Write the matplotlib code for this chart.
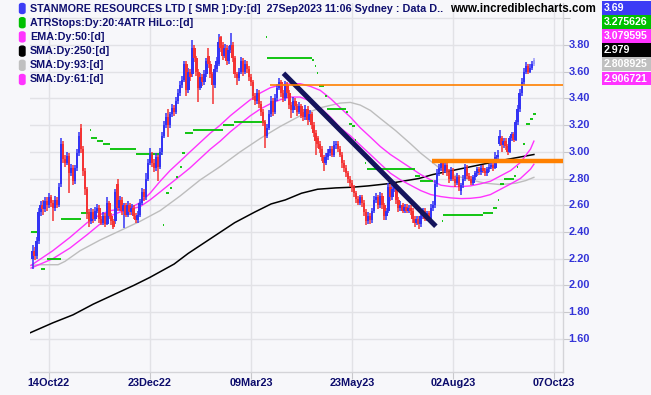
import numpy as np
import matplotlib
matplotlib.use("Agg")
import matplotlib.pyplot as plt
from matplotlib.patches import Rectangle, FancyBboxPatch

# ---------------- data ----------------
dates_tick_idx = [8, 58, 108, 158, 208, 258]
dates_tick_lab = ["14Oct22", "23Dec22", "09Mar23", "23May23", "02Aug23", "07Oct23"]

opens = [
 2.20,2.26,2.22,2.33,2.55,2.60,2.57,2.63,2.60,2.66, 2.62,2.58,2.64,2.60,2.76,3.06,2.95,2.92,2.97,2.84,
 2.88,2.78,2.88,2.99,3.18,3.02,2.86,2.72,2.55,2.48, 2.55,2.50,2.56,2.58,2.50,2.47,2.52,2.46,2.62,2.52,
 2.48,2.48,2.76,2.58,2.64,2.56,2.60,2.53,2.60,2.55, 2.58,2.52,2.49,2.53,2.62,2.70,2.66,2.80,2.92,2.98,
 2.92,2.88,2.96,2.89,3.00,3.12,3.20,3.26,3.20,3.28, 3.33,3.30,3.38,3.44,3.50,3.54,3.66,3.46,3.60,3.58,
 3.78,3.70,3.60,3.48,3.56,3.52,3.58,3.72,3.66,3.58, 3.50,3.62,3.66,3.86,3.80,3.72,3.78,3.68,3.76,3.80,
 3.70,3.58,3.55,3.60,3.68,3.60,3.66,3.62,3.56,3.52, 3.42,3.38,3.44,3.36,3.30,3.22,3.12,3.18,3.28,3.38,
 3.30,3.40,3.48,3.52,3.44,3.40,3.50,3.44,3.35,3.31, 3.38,3.34,3.30,3.34,3.30,3.26,3.32,3.24,3.28,3.20,
 3.14,3.10,3.06,3.02,2.96,2.92,2.96,2.99,3.02,2.98, 3.05,3.06,3.02,2.98,2.92,2.88,2.84,2.80,2.77,2.73,
 2.69,2.65,2.62,2.66,2.62,2.55,2.48,2.52,2.49,2.56, 2.64,2.66,2.60,2.67,2.60,2.52,2.56,2.74,2.66,2.72,
 2.75,2.64,2.58,2.60,2.56,2.59,2.56,2.58,2.56,2.50, 2.47,2.50,2.46,2.52,2.56,2.50,2.54,2.50,2.58,2.60,
 2.76,2.84,2.88,2.92,2.86,2.90,2.85,2.80,2.86,2.80, 2.77,2.81,2.71,2.75,2.80,2.88,2.82,2.80,2.77,2.81,
 2.84,2.87,2.85,2.88,2.86,2.84,2.87,2.89,2.90,2.88, 2.96,3.06,3.10,3.05,3.08,3.04,3.00,3.10,3.13,3.09,
 3.22,3.32,3.44,3.52,3.60,3.64,3.60,3.63,3.66]
closes = [
 2.26,2.22,2.33,2.55,2.60,2.57,2.63,2.60,2.66,2.62, 2.58,2.64,2.60,2.74,3.06,2.95,2.92,2.97,2.84,2.88,
 2.78,2.88,2.99,3.12,3.02,2.86,2.72,2.55,2.48,2.55, 2.50,2.56,2.58,2.50,2.47,2.52,2.46,2.62,2.52,2.48,
 2.44,2.70,2.58,2.64,2.56,2.60,2.53,2.60,2.55,2.58, 2.52,2.49,2.53,2.62,2.70,2.66,2.80,2.92,2.98,2.92,
 2.88,2.96,2.89,3.00,3.12,3.20,3.26,3.20,3.28,3.33, 3.30,3.38,3.44,3.50,3.54,3.66,3.46,3.60,3.56,3.78,
 3.70,3.60,3.48,3.56,3.52,3.58,3.68,3.66,3.58,3.50, 3.62,3.68,3.82,3.78,3.72,3.78,3.68,3.76,3.80,3.70,
 3.58,3.55,3.60,3.68,3.60,3.66,3.62,3.56,3.52,3.42, 3.38,3.44,3.36,3.30,3.22,3.12,3.18,3.28,3.38,3.30,
 3.40,3.48,3.52,3.44,3.40,3.50,3.44,3.35,3.31,3.38, 3.34,3.30,3.34,3.27,3.26,3.32,3.24,3.28,3.20,3.14,
 3.08,3.06,3.02,2.96,2.92,2.96,2.99,3.02,2.98,3.05, 3.06,3.02,2.98,2.92,2.88,2.84,2.80,2.77,2.73,2.69,
 2.65,2.62,2.66,2.62,2.55,2.48,2.52,2.49,2.56,2.64, 2.66,2.60,2.67,2.60,2.52,2.56,2.74,2.66,2.72,2.75,
 2.64,2.58,2.60,2.56,2.59,2.56,2.58,2.56,2.50,2.47, 2.50,2.46,2.52,2.56,2.50,2.54,2.50,2.58,2.60,2.76,
 2.84,2.88,2.92,2.86,2.90,2.85,2.80,2.86,2.80,2.77, 2.81,2.74,2.75,2.80,2.88,2.82,2.80,2.77,2.81,2.84,
 2.87,2.85,2.88,2.86,2.84,2.87,2.89,2.90,2.88,2.96, 2.98,3.12,3.05,3.08,3.04,3.00,3.10,3.13,3.09,3.22,
 3.32,3.44,3.52,3.60,3.64,3.60,3.63,3.66,3.69]
highs = [
 2.30,2.29,2.36,2.58,2.63,2.64,2.66,2.66,2.69,2.68, 2.64,2.67,2.66,2.77,3.10,3.08,2.98,3.00,2.99,2.91,
 2.90,2.90,3.02,3.15,3.21,3.04,2.88,2.74,2.57,2.58, 2.57,2.59,2.61,2.60,2.52,2.55,2.54,2.66,2.63,2.54,
 2.50,2.72,2.80,2.67,2.66,2.62,2.62,2.63,2.62,2.61, 2.60,2.54,2.56,2.65,2.73,2.72,2.84,2.95,3.03,3.00,
 2.95,2.99,2.98,3.03,3.15,3.23,3.29,3.32,3.30,3.36, 3.35,3.41,3.47,3.53,3.57,3.68,3.68,3.63,3.62,3.84,
 3.80,3.72,3.62,3.59,3.58,3.61,3.70,3.78,3.68,3.60, 3.65,3.71,3.885,3.87,3.82,3.81,3.80,3.79,3.89,3.82,
 3.72,3.60,3.63,3.71,3.70,3.69,3.68,3.64,3.58,3.54, 3.44,3.47,3.46,3.38,3.32,3.24,3.21,3.31,3.42,3.40,
 3.43,3.51,3.55,3.54,3.46,3.53,3.52,3.46,3.37,3.41, 3.40,3.36,3.37,3.36,3.32,3.35,3.34,3.31,3.30,3.22,
 3.16,3.12,3.08,3.04,2.98,2.99,3.02,3.04,3.04,3.08, 3.08,3.08,3.04,3.00,2.94,2.90,2.86,2.82,2.79,2.75,
 2.71,2.67,2.68,2.68,2.64,2.57,2.55,2.54,2.58,2.67, 2.69,2.68,2.70,2.69,2.62,2.58,2.77,2.76,2.75,2.78,
 2.77,2.66,2.63,2.62,2.61,2.61,2.60,2.60,2.58,2.52, 2.52,2.52,2.55,2.58,2.58,2.56,2.56,2.61,2.63,2.79,
 2.87,2.91,2.95,2.94,2.94,2.92,2.87,2.89,2.88,2.82, 2.84,2.83,2.77,2.83,2.91,2.90,2.84,2.82,2.83,2.86,
 2.89,2.89,2.90,2.90,2.88,2.89,2.91,2.92,2.92,3.00, 3.01,3.16,3.12,3.10,3.10,3.06,3.12,3.15,3.15,3.24,
 3.35,3.47,3.55,3.63,3.67,3.66,3.66,3.68,3.70]
lows = [
 2.12,2.19,2.20,2.31,2.52,2.53,2.55,2.56,2.58,2.59, 2.48,2.56,2.58,2.59,2.74,2.92,2.89,2.90,2.69,2.82,
 2.75,2.76,2.86,2.97,2.99,2.82,2.68,2.50,2.44,2.46, 2.47,2.48,2.54,2.47,2.45,2.45,2.44,2.45,2.50,2.45,
 2.42,2.46,2.56,2.56,2.53,2.43,2.51,2.51,2.53,2.53, 2.50,2.47,2.47,2.51,2.60,2.63,2.64,2.78,2.90,2.89,
 2.85,2.86,2.78,2.87,2.98,3.10,3.18,3.11,3.18,3.26, 3.27,3.28,3.36,3.42,3.48,3.52,3.42,3.44,3.53,3.56,
 3.67,3.57,3.37,3.46,3.49,3.50,3.56,3.63,3.55,3.36, 3.48,3.60,3.64,3.75,3.69,3.70,3.65,3.66,3.74,3.67,
 3.55,3.50,3.53,3.58,3.57,3.58,3.59,3.53,3.49,3.39, 3.35,3.36,3.33,3.27,3.19,3.03,3.10,3.16,3.26,3.27,
 3.28,3.38,3.46,3.41,3.37,3.38,3.40,3.32,3.25,3.29, 3.31,3.27,3.28,3.25,3.23,3.24,3.20,3.22,3.17,3.11,
 2.98,3.03,2.99,2.93,2.86,2.90,2.94,2.97,2.96,2.96, 3.02,3.00,2.96,2.88,2.85,2.81,2.77,2.74,2.70,2.66,
 2.62,2.60,2.60,2.59,2.52,2.45,2.46,2.46,2.47,2.54, 2.62,2.57,2.58,2.57,2.49,2.49,2.54,2.63,2.64,2.70,
 2.61,2.55,2.56,2.54,2.54,2.54,2.54,2.53,2.47,2.44, 2.45,2.42,2.44,2.50,2.48,2.48,2.48,2.49,2.56,2.58,
 2.74,2.82,2.86,2.83,2.84,2.82,2.77,2.78,2.78,2.74, 2.75,2.71,2.68,2.73,2.78,2.80,2.78,2.75,2.75,2.79,
 2.82,2.83,2.83,2.84,2.82,2.82,2.85,2.87,2.86,2.87, 2.94,3.04,3.00,3.03,3.01,2.98,2.99,3.08,3.07,3.08,
 3.20,3.30,3.42,3.50,3.58,3.58,3.59,3.61,3.64]

# moving averages, sampled along the bars (bar index, value)
ema50_idx = [-0.8,10,18.5,27,33.4,38.3,43.3,48.2,53.2,58.1,63.1,68,73,77.9,82.9,87.9,92.8,97.8,102.7,107.7,
             112.6,117.6,122.5,127.5,132.4,137.4,142.3,147.3,152.2,157.2,162.1,167.1,172,177,182,187,192,197,
             202,207,212,216.6,221.5,226.5,231.5,236.5,241.3,246.3,248]
ema50_val = [2.15,2.26,2.36,2.47,2.53,2.56,2.57,2.58,2.62,2.69,2.78,2.86,2.93,3.00,3.07,3.14,3.20,3.27,3.33,3.39,
             3.44,3.48,3.50,3.51,3.51,3.49,3.46,3.40,3.33,3.26,3.18,3.11,3.04,2.98,2.93,2.88,2.83,2.79,
             2.75,2.74,2.74,2.745,2.76,2.78,2.82,2.86,2.92,3.02,3.08]
sma61_idx = ema50_idx
sma61_val = [2.13,2.20,2.28,2.38,2.46,2.52,2.55,2.57,2.59,2.64,2.70,2.76,2.82,2.88,2.95,3.02,3.08,3.15,3.21,3.27,
             3.32,3.36,3.39,3.41,3.41,3.38,3.33,3.26,3.18,3.12,3.05,2.98,2.91,2.84,2.79,2.75,2.71,2.68,
             2.665,2.655,2.65,2.652,2.66,2.68,2.72,2.76,2.80,2.87,2.907]
sma93_idx = [-0.8,3.7,12.6,16,23.5,33.4,43.3,53.2,63.1,73,82.9,92.8,102.7,112.6,122.5,132.4,142.3,152.2,157.2,
             162.1,167.1,172,179.5,187,192,197,202,209.5,216.6,224,231.5,239,244,248]
sma93_val = [2.15,2.155,2.155,2.18,2.26,2.34,2.41,2.48,2.56,2.67,2.79,2.89,3.00,3.10,3.19,3.27,3.33,3.365,3.37,
             3.35,3.31,3.25,3.16,3.06,2.99,2.93,2.87,2.82,2.79,2.765,2.755,2.765,2.785,2.809]
sma250_idx = [-1.3,10,20,30,40,50,58,70,77,85,93,100,110,118,125,133,141,150,158,166,175,183,191,198,206,
              214,222,230,239,248]
sma250_val = [1.645,1.72,1.78,1.86,1.93,2.00,2.06,2.16,2.24,2.32,2.40,2.47,2.55,2.61,2.64,2.69,2.72,2.73,2.735,
              2.745,2.76,2.78,2.80,2.83,2.855,2.88,2.905,2.93,2.955,2.98]

# ATR trailing stops: (first bar, last bar, level)
atr_start = [-1,4,7,14,24,28.4,29,32,35,38.5,51,64.5,66,68,71,73,74,75.5,79.5,94,99.5,115.5,116,138,139.5,
             140.5,141.5,144.8,145.6,155,156.4,158,159.7,160.8,164.5,165.4,189.4,191.5,202.5,203,223,228,
             230.2,231,233,238,239.5,242.8,244,246,247.5]
atr_end   = [3,6,14,24,28,29,32,35,38.5,51,64,65,67.5,69,72,74,75.5,79.5,94,99.5,115,116,138,139,140,
             141,144,145.5,155,156,158,159.5,160.2,162,165,189.4,191.5,198,203,223,228,229.5,
             230.8,233,238,239,240.2,243.5,246,247.5,249]
atr_level = [2.40,2.125,2.20,2.50,2.54,3.16,3.105,3.08,3.06,3.02,2.985,2.455,2.69,2.73,2.81,2.89,2.99,3.14,3.165,
             3.20,3.225,3.86,3.70,3.685,3.64,3.59,3.49,3.42,3.32,3.30,3.21,3.19,3.09,3.03,2.92,2.87,2.82,
             2.785,2.48,2.53,2.545,2.58,2.64,2.76,2.80,2.82,2.89,3.06,3.205,3.245,3.28]

# hand-drawn lines
trend_idx = [124.1, 199.5]
trend_val = [3.588, 2.443]
resist_start, resist_level = 117.6, 3.50
support_start, support_level = 197.7, 2.935

legend_rows = ["STANMORE RESOURCES LTD [ SMR ]:Dy:[d]  27Sep2023 11:06 Sydney : Data D..",
               "ATRStops:Dy:20:4ATR HiLo::[d]", "EMA:Dy:50:[d]", "SMA:Dy:250:[d]",
               "SMA:Dy:93:[d]", "SMA:Dy:61:[d]"]
legend_cols = ["#3c3cf5", "#00c000", "#ff33ff", "#000000", "#c0c0c0", "#ff33ff"]
last_labels = ["3.69", "3.275626", "3.079595", "2.979", "2.808925", "2.906721"]
last_cols = ["#3c3cf5", "#00c000", "#ff33ff", "#000000", "#c0c0c0", "#ff33ff"]
yticks = [1.60, 1.80, 2.00, 2.20, 2.40, 2.60, 2.80, 3.00, 3.20, 3.40, 3.60, 3.80]

# ---------------- drawing ----------------
W, H = 651, 395
BG = "#f7f7fa"
fig = plt.figure(figsize=(W / 100, H / 100), dpi=100)
fig.patch.set_facecolor(BG)
FONT = "Liberation Sans"

def fx(x):
    return x / W

def fy(y):
    return 1 - y / H

ax = fig.add_axes([fx(30), fy(372), (563 - 30) / W, (372 - 3) / H])
ax.set_facecolor(BG)
ax.set_xlim(-1.3, 262.4)
ax.set_ylim(1.352, 4.114)

for s in ["top", "left"]:
    ax.spines[s].set_visible(False)
for s in ["right", "bottom"]:
    ax.spines[s].set_color("#d4d4d8")
    ax.spines[s].set_linewidth(1)

ax.set_yticks(yticks + [4.0])
ax.set_xticks(dates_tick_idx)
ax.grid(True, color="#e2e2e6", lw=1)
ax.set_axisbelow(True)
ax.yaxis.tick_right()
ax.tick_params(axis="y", length=5, color="#c8c8cc", labelright=False)
ax.tick_params(axis="x", length=5, color="#c8c8cc", labelbottom=False)
for v in yticks:
    ax.annotate(f"{v:.2f}", xy=(1, v), xycoords=("axes fraction", "data"),
                xytext=(11.8, 0), textcoords="offset points", ha="center", va="center",
                fontsize=7.9, fontweight="bold", color="#3434d8", family=FONT)
for i, lab in zip(dates_tick_idx, dates_tick_lab):
    ax.annotate(lab, xy=(i, 0), xycoords=("data", "axes fraction"),
                xytext=(0, -7.6), textcoords="offset points", ha="center", va="center",
                fontsize=7.8, fontweight="bold", color="#0c0c6c", family=FONT)

# moving averages
ax.plot(sma250_idx, sma250_val, color="#000000", lw=1.1, zorder=3)
ax.plot(sma93_idx, sma93_val, color="#bdbdbd", lw=1.0, zorder=3)
ax.plot(sma61_idx, sma61_val, color="#ff33ff", lw=1.0, zorder=3)
ax.plot(ema50_idx, ema50_val, color="#ff33ff", lw=1.0, zorder=3)

# ATR stops
ax.hlines(atr_level, atr_start, atr_end, color="#00c000", lw=1.3, zorder=3)

# candles
o = np.array(opens); c = np.array(closes); h = np.array(highs); l = np.array(lows)
idx = np.arange(len(c))
cols = np.where(c >= o, "#3434f4", "#f43434").astype(object)
cols[-1] = "#9c9cf8"
ax.vlines(idx, l, h, colors=list(cols), lw=1.1, zorder=4)
ax.bar(idx, np.maximum(np.abs(c - o), 0.01), bottom=np.minimum(o, c), width=1.25,
       color=list(cols), zorder=4, linewidth=0)

# drawn lines
ax.plot(trend_idx, trend_val, color="#14145c", lw=3.6, solid_capstyle="butt", zorder=5)
ax.hlines(resist_level, resist_start, 262.4, color="#ff8000", lw=1.2, zorder=5)
ax.hlines(support_level, support_start, 262.4, color="#ff8000", lw=3.2, zorder=5)

# legend block
for k, (txt, col) in enumerate(zip(legend_rows, legend_cols)):
    yc = 8.5 + k * 14.2
    fig.patches.append(FancyBboxPatch((fx(19.5), fy(yc + 5)), 5.5 / W, 10 / H,
                                      boxstyle="round,pad=0,rounding_size=0.004",
                                      transform=fig.transFigure, facecolor=col, edgecolor=col))
    fig.text(fx(30), fy(yc), txt, ha="left", va="center", fontsize=7.75,
             fontweight="bold", color="#101070", family=FONT)

fig.text(fx(450), fy(8.5), "www.incrediblecharts.com", ha="left", va="center",
         fontsize=8.3, fontweight="bold", color="#000000", family=FONT)

# last-value boxes
for k, (txt, col) in enumerate(zip(last_labels, last_cols)):
    top = 1 + k * 14.1
    fig.patches.append(Rectangle((fx(602), fy(top + 13.6)), 49 / W, 13.6 / H,
                                 transform=fig.transFigure, facecolor=col, edgecolor="none"))
    fig.text(fx(603.5), fy(top + 7), txt, ha="left", va="center", fontsize=7.6,
             fontweight="bold", color="white", family=FONT)

fig.savefig("out.png", dpi=100, facecolor=BG)
